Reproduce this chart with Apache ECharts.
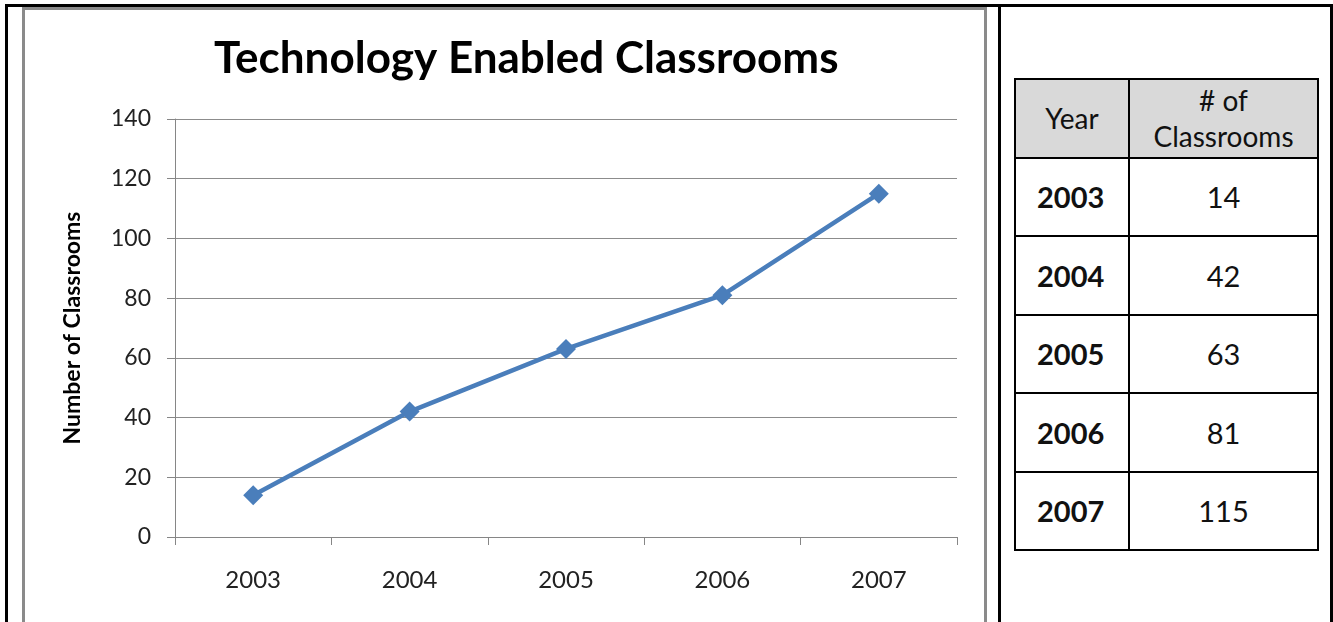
<!DOCTYPE html>
<html>
<head>
<meta charset="utf-8">
<script src="https://cdn.jsdelivr.net/npm/echarts@6/dist/echarts.min.js"></script>
<style>
  html, body { margin: 0; padding: 0; background: #fff; }
  .frame {
    position: absolute; left: 5px; top: 4px; width: 1322px; height: 630px;
    border: 3px solid #000; border-bottom: none;
  }
  .divider { position: absolute; left: 998px; top: 4px; width: 3px; height: 618px; background: #000; }
  .chartBox {
    position: absolute; left: 22px; top: 7px; width: 965px; height: 620px;
    border: 3px solid #8a8a8a; border-bottom: none; box-sizing: border-box;
  }
  #chart { position: absolute; left: 0; top: 0; width: 1000px; height: 622px; }
  table.data {
    position: absolute; left: 1014px; top: 78px; width: 305px;
    border-collapse: collapse; font-family: Lato, "Open Sans", sans-serif;
    font-size: 29px; color: #111;
  }
  table.data td, table.data th { border: 2.5px solid #000; text-align: center; padding: 0; height: 76.5px; }
  table.data th { background: #d9d9d9; font-weight: normal; line-height: 36px; font-size: 28px; }
  table.data td.year { font-weight: bold; text-align: left; padding-left: 21px; width: 90px; }
</style>
</head>
<body>
<div class="frame"></div>
<div class="divider"></div>
<div class="chartBox"></div>
<div id="chart"></div>
<table class="data" id="tbl"></table>
<script>
const years = ['2003', '2004', '2005', '2006', '2007'];
const classrooms = [14, 42, 63, 81, 115];

// table on the right, built from the same arrays
const tbl = document.getElementById('tbl');
let html = '<tr><th style="width:112px">Year</th><th># of<br>Classrooms</th></tr>';
for (let i = 0; i < years.length; i++) {
  html += '<tr><td class="year">' + years[i] + '</td><td>' + classrooms[i] + '</td></tr>';
}
tbl.innerHTML = html;

const chart = echarts.init(document.getElementById('chart'));
const font = 'Lato, "Open Sans", sans-serif';
const option = {
  animation: false,
  title: {
    text: 'Technology Enabled Classrooms',
    left: 209,
    top: 32,
    textStyle: { fontFamily: font, fontSize: 44, fontWeight: 'bold', color: '#000' }
  },
  grid: { left: 175, right: 43, top: 119, bottom: 85 },
  xAxis: {
    type: 'category',
    data: years,
    boundaryGap: true,
    axisLine: { lineStyle: { color: '#868686', width: 1 } },
    axisTick: { show: true, length: 8, lineStyle: { color: '#868686' } },
    axisLabel: { margin: 31, fontFamily: font, fontSize: 24, color: '#222' }
  },
  yAxis: {
    type: 'value',
    min: 0,
    max: 140,
    interval: 20,
    name: 'Number of Classrooms',
    nameLocation: 'middle',
    nameGap: 91,
    nameTextStyle: { fontFamily: font, fontSize: 23, fontWeight: 'bold', color: '#000' },
    axisLine: { show: true, lineStyle: { color: '#868686', width: 1 } },
    axisTick: { show: true, length: 8, lineStyle: { color: '#868686' } },
    axisLabel: { margin: 24, fontFamily: font, fontSize: 23, color: '#222' },
    splitLine: { lineStyle: { color: '#8c8c8c', width: 1 } }
  },
  series: [{
    type: 'line',
    data: classrooms,
    symbol: 'diamond',
    symbolSize: 20,
    lineStyle: { color: '#4a7ebb', width: 4.5 },
    itemStyle: { color: '#4a7ebb' }
  }]
};
chart.setOption(option);
</script>
</body>
</html>
